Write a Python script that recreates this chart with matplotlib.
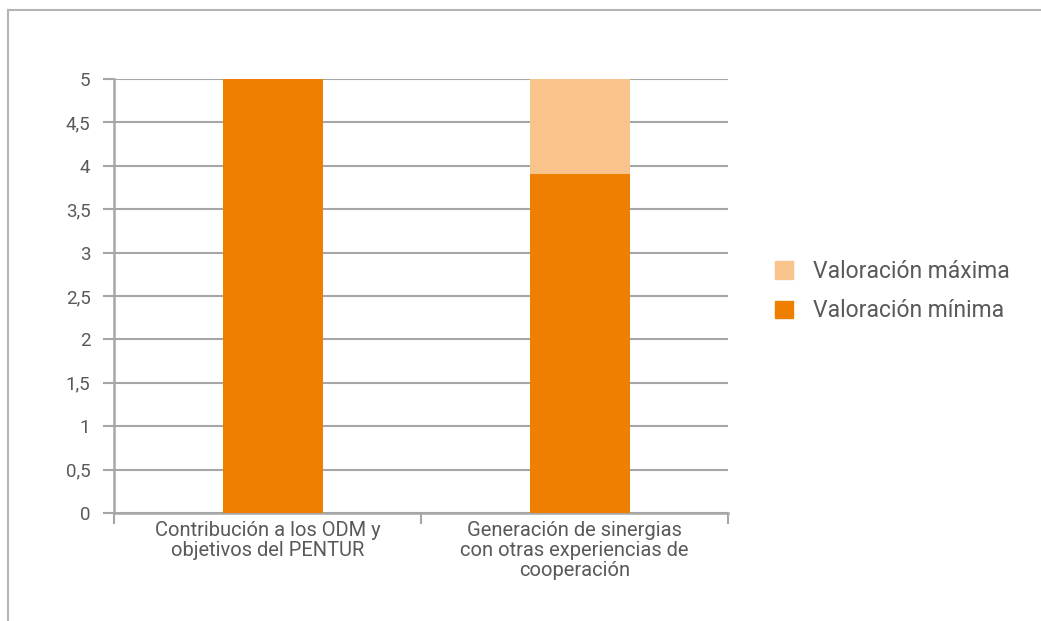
import matplotlib
matplotlib.use('Agg')
import matplotlib.pyplot as plt
from matplotlib.lines import Line2D
from matplotlib.patches import Patch
import numpy as np

plt.rcParams['font.family'] = ['Roboto', 'DejaVu Sans']

categories = ['Contribución a los ODM y\nobjetivos del PENTUR',
              'Generación de sinergias\ncon otras experiencias de\ncooperación']
val_min = [5.0, 3.9]
val_max_extra = [0.0, 1.1]
y_ticks = [0, 0.5, 1, 1.5, 2, 2.5, 3, 3.5, 4, 4.5, 5]
y_labels = ['0', '0,5', '1', '1,5', '2', '2,5', '3', '3,5', '4', '4,5', '5']

C_MIN = '#EF7F00'
C_MAX = '#F8C48C'
GRID = '#A6A6A6'
TXT = '#58595B'

fig = plt.figure(figsize=(10.41, 6.21), dpi=100)
ax = fig.add_axes([0.1095, 0.1739, 0.5898, 0.6989])

x = np.arange(len(categories))
w = 0.326
# bars sit slightly right of the category centre in the original
ax.bar(x + 0.018, val_min, w, color=C_MIN, zorder=3)
ax.bar(x + 0.018, val_max_extra, w, bottom=val_min, color=C_MAX, zorder=3)

ax.set_xlim(-0.5, 1.5)
ax.set_ylim(0, 5)
ax.set_yticks(y_ticks)
ax.set_yticklabels(y_labels, fontsize=13.5, color=TXT)
ax.yaxis.grid(True, color=GRID, linewidth=1.5, zorder=0)
ax.tick_params(axis='y', length=8, width=1.5, color=GRID, pad=9)

# category labels centred, ticks at category boundaries
ax.set_xticks(x)
ax.set_xticklabels(categories, fontsize=14.5, color=TXT, linespacing=1.05)
ax.tick_params(axis='x', which='major', length=0, pad=6)
ax.set_xticks([-0.5, 0.5, 1.5], minor=True)
ax.tick_params(axis='x', which='minor', length=8, width=1.5, color=GRID)

for s in ['top', 'right']:
    ax.spines[s].set_visible(False)
for s in ['left', 'bottom']:
    ax.spines[s].set_color(GRID)
    ax.spines[s].set_linewidth(1.8)

handles = [Patch(color=C_MAX, label='Valoración máxima'),
           Patch(color=C_MIN, label='Valoración mínima')]
fig.legend(handles=handles, loc='center left', bbox_to_anchor=(0.7445, 0.531),
           frameon=False, fontsize=16.5, labelcolor=TXT, handlelength=0.8,
           handleheight=0.8, handletextpad=0.85, labelspacing=0.7, borderpad=0,
           borderaxespad=0)

# outer frame (top and left edges visible)
fig.add_artist(Line2D([8 / 1041, 1.0], [1 - 10 / 621, 1 - 10 / 621], color='#B5B5B5', linewidth=1.5))
fig.add_artist(Line2D([8 / 1041, 8 / 1041], [0.0, 1 - 10 / 621], color='#B5B5B5', linewidth=1.5))

fig.savefig('out.png', dpi=100)
